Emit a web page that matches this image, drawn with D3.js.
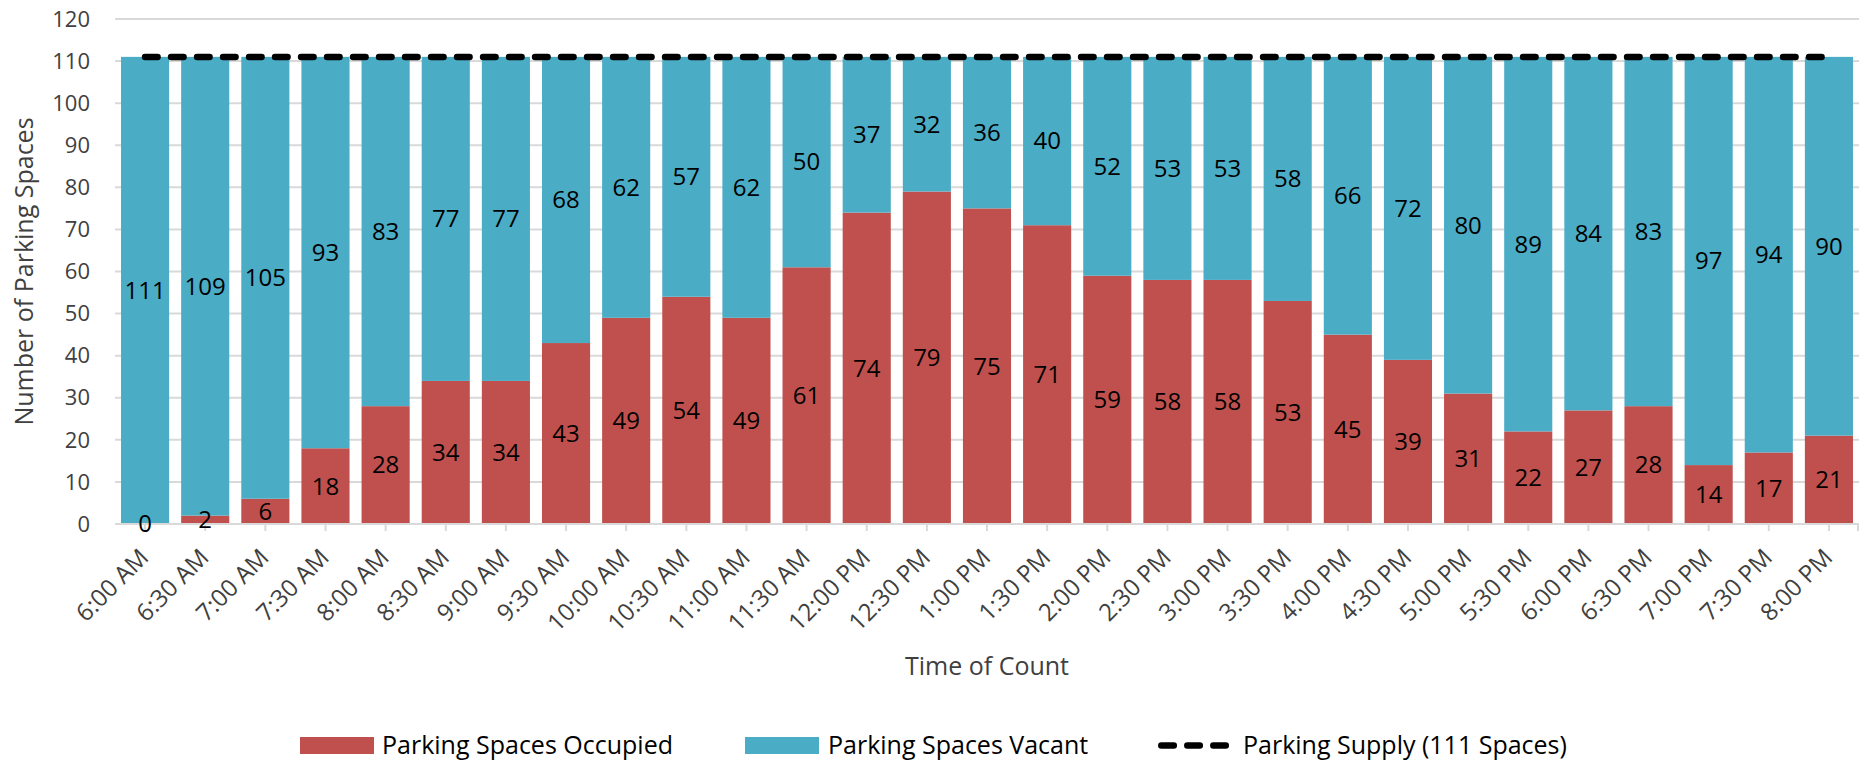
<!DOCTYPE html>
<html>
<head>
<meta charset="utf-8">
<script src="https://cdn.jsdelivr.net/npm/d3@7"></script>
<style>
  html, body { margin: 0; padding: 0; background: #fff; }
  svg { display: block; font-family: "Open Sans", "DejaVu Sans", sans-serif; }
</style>
</head>
<body>
<svg id="chart" width="1864" height="761"></svg>
<script>
// ---- Data ----
const times = ["6:00 AM","6:30 AM","7:00 AM","7:30 AM","8:00 AM","8:30 AM","9:00 AM","9:30 AM",
  "10:00 AM","10:30 AM","11:00 AM","11:30 AM","12:00 PM","12:30 PM","1:00 PM","1:30 PM",
  "2:00 PM","2:30 PM","3:00 PM","3:30 PM","4:00 PM","4:30 PM","5:00 PM","5:30 PM",
  "6:00 PM","6:30 PM","7:00 PM","7:30 PM","8:00 PM"];
const occupied = [0,2,6,18,28,34,34,43,49,54,49,61,74,79,75,71,59,58,58,53,45,39,31,22,27,28,14,17,21];
const vacant = [111,109,105,93,83,77,77,68,62,57,62,50,37,32,36,40,52,53,53,58,66,72,80,89,84,83,97,94,90];
const supply = [111,111,111,111,111,111,111,111,111,111,111,111,111,111,111,111,111,111,111,111,111,111,111,111,111,111,111,111,111];
const yTicks = [0,10,20,30,40,50,60,70,80,90,100,110,120];
const seriesNames = ["Parking Spaces Occupied","Parking Spaces Vacant","Parking Supply (111 Spaces)"];
const yTitle = "Number of Parking Spaces";
const xTitle = "Time of Count";

// ---- Styles ----
const RED = "#C0504D", BLUE = "#4BACC6", GRID = "#D9D9D9", TXT = "#404040";

const svg = d3.select("#chart");
const pLeft = 115, pRight = 1859, pTop = 19, pBottom = 524;

const x = d3.scaleBand().domain(times).range([pLeft, pRight]).paddingInner(0.2).paddingOuter(0.1);
const y = d3.scaleLinear().domain([0, 120]).range([pBottom, pTop]);
const cx = d => x(d) + x.bandwidth() / 2;

// gridlines
svg.append("g").selectAll("line").data(yTicks.filter(d => d > 0)).join("line")
  .attr("x1", pLeft).attr("x2", pRight)
  .attr("y1", d => y(d)).attr("y2", d => y(d))
  .attr("stroke", GRID).attr("stroke-width", 2);

// y tick labels
svg.append("g").selectAll("text").data(yTicks).join("text")
  .attr("x", 90).attr("y", d => y(d)).attr("dy", "0.35em")
  .attr("text-anchor", "end").attr("font-size", 22).attr("fill", TXT)
  .text(d => d);

// stacked data
const rows = times.map((t, i) => ({ t, occ: occupied[i], vac: vacant[i] }));

// bars
const gb = svg.append("g");
gb.selectAll("rect.occ").data(rows).join("rect").attr("class", "occ")
  .attr("x", d => x(d.t)).attr("width", x.bandwidth())
  .attr("y", d => y(d.occ)).attr("height", d => y(0) - y(d.occ))
  .attr("fill", RED);
gb.selectAll("rect.vac").data(rows).join("rect").attr("class", "vac")
  .attr("x", d => x(d.t)).attr("width", x.bandwidth())
  .attr("y", d => y(d.occ + d.vac)).attr("height", d => y(d.occ) - y(d.occ + d.vac))
  .attr("fill", BLUE);

// x axis line and ticks
svg.append("line").attr("x1", pLeft).attr("x2", pRight).attr("y1", pBottom).attr("y2", pBottom)
  .attr("stroke", GRID).attr("stroke-width", 2);
svg.append("g").selectAll("line").data(times).join("line")
  .attr("x1", d => cx(d)).attr("x2", d => cx(d))
  .attr("y1", pBottom).attr("y2", pBottom + 7)
  .attr("stroke", GRID).attr("stroke-width", 2);
svg.append("line").attr("x1", pRight - 1).attr("x2", pRight - 1).attr("y1", pBottom).attr("y2", pBottom + 7)
  .attr("stroke", GRID).attr("stroke-width", 2);

// x tick labels
svg.append("g").selectAll("text").data(times).join("text")
  .attr("transform", d => `translate(${cx(d) + 5},${pBottom + 35}) rotate(-45)`)
  .attr("text-anchor", "end").attr("font-size", 24).attr("fill", TXT)
  .text(d => d);

// supply line
const line = d3.line().x((d, i) => cx(times[i])).y(d => y(d));
svg.append("path").datum(supply).attr("d", line)
  .attr("fill", "none").attr("stroke", "#000").attr("stroke-width", 6.5)
  .attr("stroke-linecap", "round").attr("stroke-dasharray", "12.5,13.5");

// value labels
const gl = svg.append("g").attr("font-size", 24).attr("fill", "#000").attr("text-anchor", "middle");
gl.selectAll("text.occ").data(rows).join("text").attr("class", "occ")
  .attr("x", d => cx(d.t)).attr("y", d => (y(0) + y(d.occ)) / 2).attr("dy", "0.35em")
  .text(d => d.occ);
gl.selectAll("text.vac").data(rows).join("text").attr("class", "vac")
  .attr("x", d => cx(d.t)).attr("y", d => (y(d.occ) + y(d.occ + d.vac)) / 2).attr("dy", "0.35em")
  .text(d => d.vac);

// axis titles
svg.append("text").attr("transform", `translate(33,${(pTop + pBottom) / 2}) rotate(-90)`)
  .attr("text-anchor", "middle").attr("font-size", 25).attr("fill", TXT).text(yTitle);
svg.append("text").attr("x", (pLeft + pRight) / 2).attr("y", 675)
  .attr("text-anchor", "middle").attr("font-size", 25).attr("fill", TXT).text(xTitle);

// legend
const lg = svg.append("g").attr("font-size", 25).attr("fill", "#000");
lg.append("rect").attr("x", 300).attr("y", 737).attr("width", 74).attr("height", 17).attr("fill", RED);
lg.append("text").attr("x", 382).attr("y", 754).text(seriesNames[0]);
lg.append("rect").attr("x", 745).attr("y", 737).attr("width", 74).attr("height", 17).attr("fill", BLUE);
lg.append("text").attr("x", 828).attr("y", 754).text(seriesNames[1]);
lg.append("line").attr("x1", 1161.3).attr("x2", 1226).attr("y1", 745.5).attr("y2", 745.5)
  .attr("stroke", "#000").attr("stroke-width", 6.5).attr("stroke-linecap", "round")
  .attr("stroke-dasharray", "12.5,13.5");
lg.append("text").attr("x", 1243).attr("y", 754).text(seriesNames[2]);
</script>
</body>
</html>
